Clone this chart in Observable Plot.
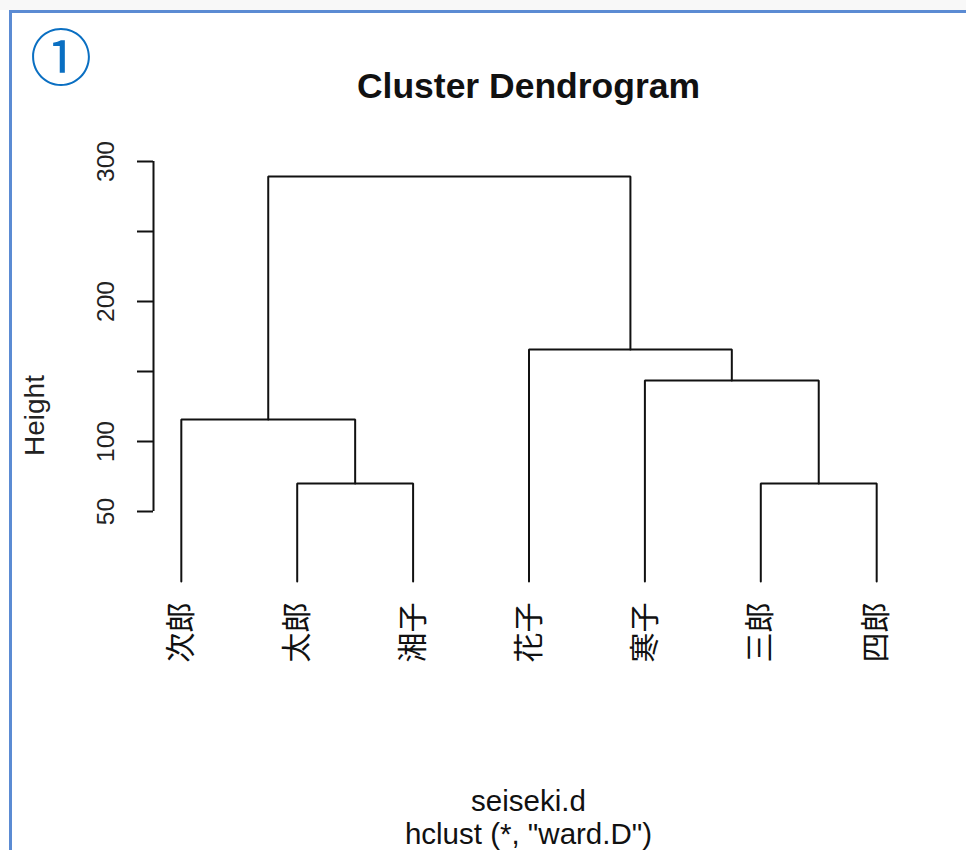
<!DOCTYPE html>
<html>
<head>
<meta charset="utf-8">
<script src="https://cdn.jsdelivr.net/npm/d3@7"></script>
<script src="https://cdn.jsdelivr.net/npm/@observablehq/plot@0.6"></script>
<style>
  html, body { margin: 0; padding: 0; background: #ffffff; }
  #page { position: relative; width: 966px; height: 850px; overflow: hidden; background: #ffffff;
          font-family: "Liberation Sans", Arial, sans-serif; color: #111; }
  #topband { position: absolute; left: 0; top: 0; width: 966px; height: 10px; background: #f8f8f8; }
  #frame { position: absolute; left: 9px; top: 10px; width: 1000px; height: 900px;
           border-left: 3px solid #5b8bd3; border-top: 3px solid #5b8bd3; }
  #badge { position: absolute; left: 29px; top: 16px; width: 64px; height: 76px; line-height: 76px;
           font-family: "Noto Sans CJK JP", sans-serif; font-size: 62px; color: #0a6fc2; text-align: center; }
  #title { position: absolute; left: 153px; width: 751px; top: 69px; text-align: center;
           font-weight: bold; font-size: 35.5px; line-height: 35px; }
  #chart { position: absolute; left: 0; top: 120px; }
  #caption { position: absolute; left: 153px; width: 751px; top: 784px; text-align: center;
             font-size: 29.5px; line-height: 33px; }
</style>
</head>
<body>
<div id="page">
  <div id="topband"></div>
  <div id="frame"></div>
  <div id="badge">①</div>
  <div id="title">Cluster Dendrogram</div>
  <div id="chart"></div>
  <div id="caption">seiseki.d<br>hclust (*, "ward.D")</div>
</div>
<script>
// Leaves in dendrogram order
const leaves = ["次郎", "太郎", "湘子", "花子", "寒子", "三郎", "四郎"];
// Merge steps: negative = leaf position (1-based), positive = earlier merge step (1-based)
const mergeLeft   = [-2, -6, -1, -5, -4, 3];
const mergeRight  = [-3, -7,  1,  2,  4, 5];
const mergeHeight = [70, 70, 115.7, 143.6, 165.7, 289.3];
// Axis ticks and which carry labels
const yTicks  = [50, 100, 150, 200, 250, 300];
const yLabels = [50, 100, 200, 300];

// x domain as in R (1..n extended by 4%)
const n = leaves.length;
const pad = (n - 1) * 0.04;
const xDomain = [1 - pad, n + pad];

// compute node positions
const nodeX = [], nodeH = [];
function childPos(c) {
  return c < 0 ? {x: -c, h: 0} : {x: nodeX[c - 1], h: nodeH[c - 1]};
}
const paths = [];
mergeLeft.forEach((l, i) => {
  const a = childPos(l), b = childPos(mergeRight[i]);
  const H = mergeHeight[i];
  nodeX[i] = (a.x + b.x) / 2;
  nodeH[i] = H;
  paths.push({id: i, x: a.x, y: a.h}, {id: i, x: a.x, y: H}, {id: i, x: b.x, y: H}, {id: i, x: b.x, y: b.h});
});

const chart = Plot.plot({
  width: 966,
  height: 580,
  marginLeft: 153,
  marginRight: 62,
  marginTop: 41,
  marginBottom: 119,
  x: {domain: xDomain, axis: null},
  y: {domain: [0, 300], axis: null},
  style: {fontFamily: "'Liberation Sans', Arial, sans-serif", background: "transparent", color: "#111", overflow: "visible"},
  marks: [
    Plot.ruleX([xDomain[0]], {y1: d3.min(yTicks), y2: d3.max(yTicks), stroke: "#111", strokeWidth: 2}),
    Plot.axisY(yTicks, {
      anchor: "left", label: null, tickSize: 16, tickPadding: 24, tickRotate: -90, fontSize: 24.5,
      stroke: "#111", strokeWidth: 2, fill: "#222",
      tickFormat: d => yLabels.includes(d) ? String(d) : ""
    }),
    Plot.line(paths, {x: "x", y: "y", z: "id", stroke: "#111", strokeWidth: 2, strokeLinejoin: "miter"}),
    Plot.text(leaves, {
      x: (d, i) => i + 1, y: 0, text: d => d, dy: 21, rotate: -90,
      textAnchor: "end", lineAnchor: "middle", fontSize: 30,
      fontFamily: "'Noto Sans CJK JP', sans-serif", fill: "#111"
    }),
    Plot.text(["Height"], {
      text: d => d, frameAnchor: "left", dx: -118, dy: 44, rotate: -90,
      textAnchor: "middle", lineAnchor: "middle", fontSize: 28, fill: "#222"
    })
  ]
});
document.getElementById("chart").appendChild(chart);
</script>
</body>
</html>
